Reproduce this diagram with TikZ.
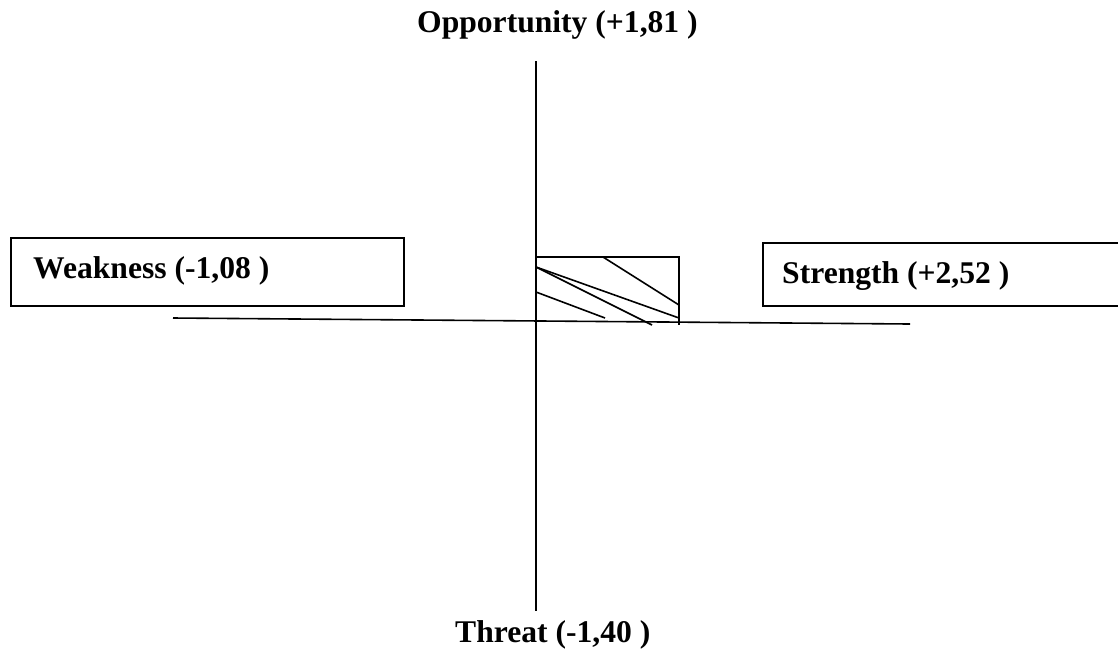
\documentclass[tikz,border=0pt]{standalone}
\usepackage{fontspec}
\setmainfont{Liberation Serif}
\begin{document}
\begin{tikzpicture}[x=1pt,y=-1pt,
  lbl/.style={anchor=base west,inner sep=0pt,font=\bfseries\fontsize{31.6}{38}\selectfont},
  boxframe/.style={draw,line width=1.6pt,anchor=north west,inner sep=0pt},
  ax/.style={line width=1.6pt},
  hatch/.style={line width=1.6pt}]
\useasboundingbox (0,0) rectangle (1118,649);
% axes
\coordinate (vtop) at (536,61);
\coordinate (vbot) at (536,611);
\coordinate (hl) at (173,318);
\coordinate (hr) at (910,324);
\draw[ax] (vtop) -- (vbot);
\draw[ax] (hl) -- (hr);
% labels
\node[lbl] (opp) at (417,32) {Opportunity (+1,81 )};
\node[lbl] (thr) at (455,642) {Threat (-1,40 )};
% boxes
\node[boxframe,minimum width=393pt,minimum height=68pt] (wbox) at (10,237) {};
\node[lbl] (weak) at (33,278) {Weakness (-1,08 )};
\node[boxframe,minimum width=370pt,minimum height=63pt] (sbox) at (762,242) {};
\node[lbl] (str) at (782,283) {Strength (+2,52 )};
% hatched rectangle
\coordinate (ra) at (536,257);
\coordinate (rb) at (679,257);
\coordinate (rc) at (679,325);
\draw[hatch] (ra) -- (rb) -- (rc);
\coordinate (h1a) at (603,257); \coordinate (h1b) at (679,305);
\coordinate (h2a) at (536,267); \coordinate (h2b) at (679,318);
\coordinate (h3b) at (652,325);
\coordinate (h4a) at (536,292); \coordinate (h4b) at (605,318);
\draw[hatch] (h1a) -- (h1b);
\draw[hatch] (h2a) -- (h2b);
\draw[hatch] (h2a) -- (h3b);
\draw[hatch] (h4a) -- (h4b);
\end{tikzpicture}
\end{document}
